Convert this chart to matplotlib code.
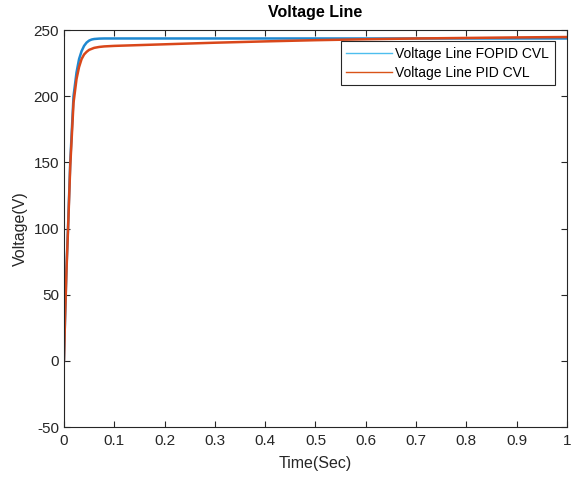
import matplotlib
matplotlib.use("Agg")
import matplotlib.pyplot as plt
from matplotlib.lines import Line2D

plt.rcParams['font.family'] = ['Liberation Sans', 'DejaVu Sans']
plt.rcParams['axes.unicode_minus'] = False

t_fopid = [0, 0.002, 0.005, 0.008, 0.0125, 0.019, 0.025, 0.03, 0.035, 0.04, 0.045,
           0.05, 0.055, 0.06, 0.07, 0.08, 0.1, 0.2, 0.4, 0.6, 0.8, 1.0]
v_fopid = [0, 30, 70, 100, 150, 200, 218, 228, 234, 238, 240.5,
           242, 242.8, 243.2, 243.5, 243.6, 243.6, 243.6, 243.6, 243.6, 243.6, 243.6]

t_pid = [0, 0.002, 0.005, 0.008, 0.0125, 0.019, 0.025, 0.03, 0.035, 0.04, 0.045,
         0.05, 0.06, 0.07, 0.08, 0.1, 0.15, 0.2, 0.3, 0.4, 0.5, 0.6, 0.7, 0.8, 0.9, 1.0]
v_pid = [0, 30, 68, 98, 147, 195, 213, 222, 228, 231.5, 233.5,
         235, 236.5, 237.2, 237.6, 238, 238.6, 239.2, 240.4, 241.4, 242.3, 243.0, 243.6, 244.0, 244.4, 244.7]

xticks = [0, 0.1, 0.2, 0.3, 0.4, 0.5, 0.6, 0.7, 0.8, 0.9, 1]
xticklabels = ['0', '0.1', '0.2', '0.3', '0.4', '0.5', '0.6', '0.7', '0.8', '0.9', '1']
yticks = [-50, 0, 50, 100, 150, 200, 250]

fig = plt.figure(figsize=(5.71, 4.8), dpi=100)
ax = fig.add_axes([0.112, 0.110, 0.881, 0.8275])

ax.plot(t_fopid, v_fopid, color='#1f88d0', linewidth=1.8)
ax.plot(t_pid, v_pid, color='#d9471a', linewidth=1.8)

ax.set_xlim(0, 1)
ax.set_ylim(-50, 250)
ax.set_xticks(xticks)
ax.set_xticklabels(xticklabels)
ax.set_yticks(yticks)
ax.tick_params(direction='in', top=True, right=True, labelsize=11, length=4,
               colors='#262626', labelcolor='#262626')
ax.tick_params(axis='x', pad=5)
for s in ax.spines.values():
    s.set_color('#262626')
    s.set_linewidth(0.8)

ax.set_xlabel('Time(Sec)', fontsize=11.5, color='#262626', labelpad=6)
ax.set_ylabel('Voltage(V)', fontsize=11.5, color='#262626', labelpad=4)
ax.set_title('Voltage Line', fontsize=11.5, fontweight='bold', pad=9)

handles = [Line2D([], [], color='#4DBEEE', linewidth=1.0),
           Line2D([], [], color='#D95319', linewidth=1.0)]
leg = ax.legend(handles, ['Voltage Line FOPID CVL', 'Voltage Line PID CVL'],
                loc='upper right', bbox_to_anchor=(0.976, 0.972), fontsize=10,
                fancybox=False, edgecolor='#262626', framealpha=1,
                handlelength=3.3, handletextpad=0.25, borderpad=0.4, labelspacing=0.35,
                borderaxespad=0)
leg.get_frame().set_linewidth(0.8)

fig.savefig('out.png', dpi=100)
